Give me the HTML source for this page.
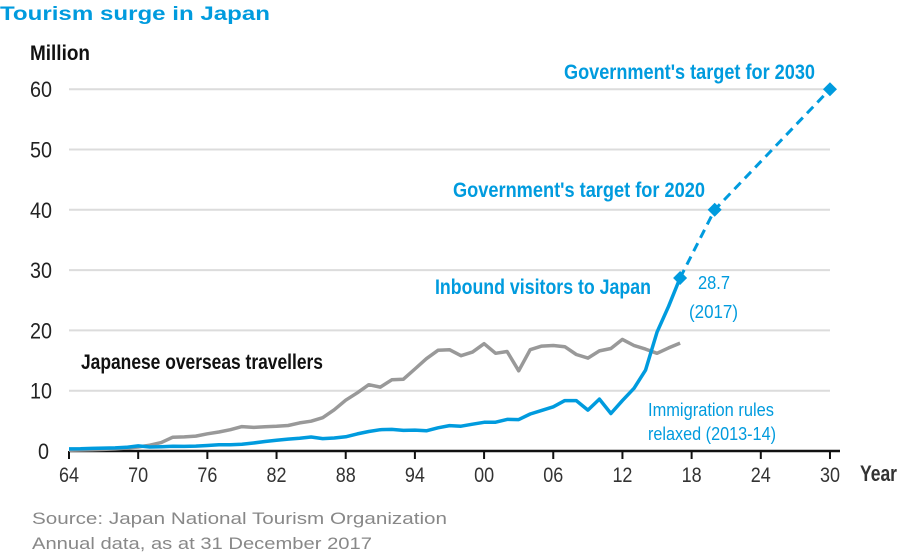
<!DOCTYPE html>
<html><head><meta charset="utf-8"><style>
html,body{margin:0;padding:0;background:#fff;width:916px;height:555px;overflow:hidden}
svg{display:block;font-family:"Liberation Sans",sans-serif}
</style></head><body>
<svg id="c" width="916" height="555" viewBox="0 0 916 555" xmlns="http://www.w3.org/2000/svg">
<text x="0" y="20" font-size="19" font-weight="bold" fill="#009bde" textLength="270" lengthAdjust="spacingAndGlyphs">Tourism surge in Japan</text>
<text x="30" y="60" font-size="21" font-weight="bold" fill="#111" textLength="60" lengthAdjust="spacingAndGlyphs">Million</text>
<g id="grid" stroke="#dcdcdc" stroke-width="2"></g>
<g id="ylab" font-size="22" fill="#222"></g>
<g id="xlab" font-size="21" fill="#333" text-anchor="middle"></g>
<line x1="69" y1="451" x2="840" y2="451" stroke="#111" stroke-width="2.5"/>
<g id="ticks" stroke="#111" stroke-width="2"></g>
<text x="860" y="481" font-size="22" font-weight="bold" fill="#333" textLength="37" lengthAdjust="spacingAndGlyphs">Year</text>
<polyline id="out" fill="none" stroke="#999" stroke-width="3.5" stroke-linejoin="round"/>
<polyline id="inb" fill="none" stroke="#009bde" stroke-width="3.5" stroke-linejoin="round"/>
<polyline id="dash" fill="none" stroke="#009bde" stroke-width="3" stroke-dasharray="9,6"/>
<g id="dia" fill="#009bde"></g>
<g font-weight="bold" fill="#009bde" font-size="21">
<text x="564" y="79" textLength="251" lengthAdjust="spacingAndGlyphs">Government's target for 2030</text>
<text x="453" y="197" textLength="252" lengthAdjust="spacingAndGlyphs">Government's target for 2020</text>
<text x="435" y="294" textLength="216" lengthAdjust="spacingAndGlyphs">Inbound visitors to Japan</text>
</g>
<g fill="#009bde" font-size="18">
<text x="698" y="289" textLength="32" lengthAdjust="spacingAndGlyphs">28.7</text>
<text x="689" y="318" textLength="49" lengthAdjust="spacingAndGlyphs">(2017)</text>
<text x="648" y="416" textLength="126" lengthAdjust="spacingAndGlyphs">Immigration rules</text>
<text x="648" y="440" textLength="128" lengthAdjust="spacingAndGlyphs">relaxed (2013-14)</text>
</g>
<text x="81" y="369" font-size="21" font-weight="bold" fill="#111" textLength="242" lengthAdjust="spacingAndGlyphs">Japanese overseas travellers</text>
<g fill="#888" font-size="17">
<text x="32" y="524" textLength="415" lengthAdjust="spacingAndGlyphs">Source: Japan National Tourism Organization</text>
<text x="32" y="549" textLength="340" lengthAdjust="spacingAndGlyphs">Annual data, as at 31 December 2017</text>
</g>
</svg>
<script>
var NS="http://www.w3.org/2000/svg";
function X(y){return 69+(y-1964)*11.53;}
function Y(v){return 451-v*6.03;}
function el(p,t,a,txt){var e=document.createElementNS(NS,t);for(var k in a)e.setAttribute(k,a[k]);if(txt!=null)e.textContent=txt;document.getElementById(p).appendChild(e);return e;}
for(var v=10;v<=60;v+=10){el("grid","line",{x1:69,x2:830,y1:Y(v),y2:Y(v)});}
for(var v=0;v<=60;v+=10){el("ylab","text",{x:v==0?38:30,y:Y(v)+8,textLength:v==0?11:22,lengthAdjust:"spacingAndGlyphs"},String(v));}
var yrs=[1964,1970,1976,1982,1988,1994,2000,2006,2012,2018,2024,2030];
yrs.forEach(function(y){var s=String(y).slice(2);el("xlab","text",{x:X(y),y:482,textLength:20,lengthAdjust:"spacingAndGlyphs"},s);el("ticks","line",{x1:X(y),x2:X(y),y1:451,y2:459});});
var out=[0.13,0.16,0.21,0.27,0.34,0.49,0.66,0.96,1.39,2.29,2.34,2.47,2.85,3.15,3.53,4.04,3.91,4.01,4.09,4.23,4.66,4.95,5.52,6.83,8.43,9.66,11.0,10.6,11.8,11.9,13.6,15.3,16.7,16.8,15.8,16.4,17.8,16.2,16.5,13.3,16.8,17.4,17.5,17.3,16.0,15.4,16.6,17.0,18.5,17.5,16.9,16.2,17.1,17.9];
var inb=[0.35,0.37,0.43,0.48,0.52,0.61,0.85,0.66,0.72,0.78,0.76,0.81,0.91,1.03,1.04,1.11,1.32,1.58,1.79,1.97,2.11,2.33,2.06,2.16,2.36,2.84,3.24,3.53,3.58,3.41,3.47,3.35,3.84,4.22,4.11,4.44,4.76,4.77,5.24,5.21,6.14,6.73,7.33,8.35,8.35,6.79,8.61,6.22,8.36,10.4,13.4,19.7,24.0,28.7];
function pts(a){return a.map(function(v,i){return X(1964+i).toFixed(1)+","+Y(v).toFixed(1);}).join(" ");}
document.getElementById("out").setAttribute("points",pts(out));
document.getElementById("inb").setAttribute("points",pts(inb));
document.getElementById("dash").setAttribute("points",[X(2017)+","+Y(28.7),X(2020)+","+Y(40),X(2030)+","+Y(60)].join(" "));
[[2017,28.7],[2020,40],[2030,60]].forEach(function(p){var x=X(p[0]),y=Y(p[1]),r=7;el("dia","polygon",{points:(x)+","+(y-r)+" "+(x+r)+","+y+" "+x+","+(y+r)+" "+(x-r)+","+y});});
</script>
</body></html>
